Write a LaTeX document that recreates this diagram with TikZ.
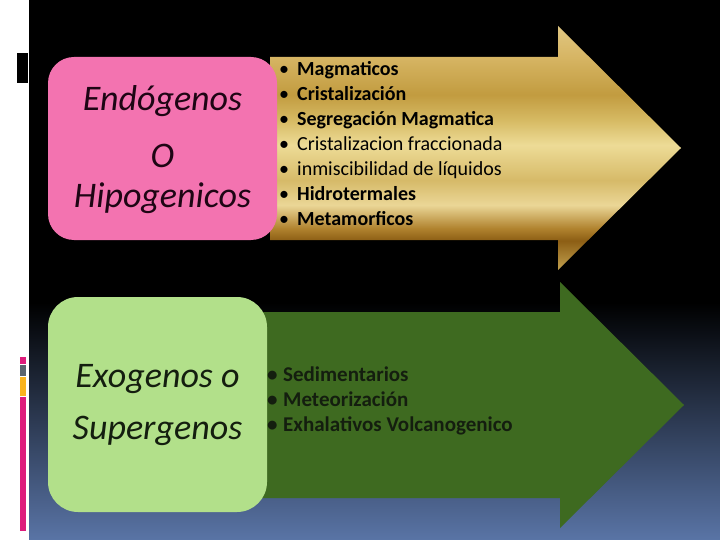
\documentclass[tikz,border=0pt]{standalone}
\usepackage{fontspec}
\setmainfont{Carlito}
\definecolor{pinkbox}{RGB}{243,115,176}
\definecolor{lgreen}{RGB}{178,224,138}
\definecolor{dgreen}{RGB}{62,106,32}
\definecolor{barpink}{RGB}{222,28,124}
\definecolor{bargray}{RGB}{90,100,110}
\definecolor{barorange}{RGB}{250,180,30}
\definecolor{pinktext}{RGB}{30,5,20}
\definecolor{greentext}{RGB}{20,30,15}
\pgfdeclareverticalshading{goldshade}{100bp}{%
  rgb(0bp)=(0.76,0.63,0.31);
  rgb(25bp)=(0.76,0.63,0.31);
  rgb(31bp)=(0.55,0.37,0.08);
  rgb(33.5bp)=(0.69,0.51,0.18);
  rgb(38.3bp)=(0.92,0.84,0.59);
  rgb(43.4bp)=(0.84,0.73,0.41);
  rgb(50.6bp)=(0.93,0.86,0.59);
  rgb(55.7bp)=(0.84,0.73,0.39);
  rgb(60.9bp)=(0.76,0.61,0.25);
  rgb(68.6bp)=(0.84,0.71,0.39);
  rgb(75bp)=(0.88,0.78,0.51);
  rgb(100bp)=(0.88,0.78,0.51)}
\pgfdeclareverticalshading{bgshade}{100bp}{%
  rgb(0bp)=(0.35,0.455,0.65);
  rgb(25bp)=(0.35,0.455,0.65);
  rgb(47bp)=(0,0,0);
  rgb(100bp)=(0,0,0)}
\tikzset{
  titlebox/.style={inner sep=0pt},
  titletext/.style={anchor=north, align=center, inner sep=0pt},
  listtext/.style={anchor=north west, align=left, inner sep=0pt},
}
\newcommand{\bulA}{\strut\makebox[18pt][l]{\textbullet}}
\newcommand{\bulB}{\strut\makebox[16pt][l]{\textbullet}}
\begin{document}
\begin{tikzpicture}[x=1pt,y=-1pt]
\useasboundingbox (0,0) rectangle (720,540);
% background
\fill[white] (0,0) rectangle (720,540);
\shade[shading=bgshade] (29,0) rectangle (720,540);
\fill[black] (17,53) rectangle (28,83);
\fill[barpink] (20,357) rectangle (26,364);
\fill[bargray] (20,365) rectangle (26,376);
\fill[barorange] (20,377) rectangle (26,396);
\fill[barpink] (20,397) rectangle (26,531);
% gold arrow
\shade[shading=goldshade] (270,57) -- (558,57) -- (558,26) -- (681,148) -- (558,270) -- (558,240) -- (270,240) -- cycle;
% pink box
\node[titlebox, rounded corners=26pt, fill=pinkbox, minimum width=229pt, minimum height=183pt] (endobox) at (162.5,148.5) {};
\node[titletext, text=pinktext, font=\itshape\fontsize{36}{40}\selectfont] (endo) at (162.5,82)
  {\strut Endógenos\\[17pt]\strut O\\\strut Hipogenicos};
% green arrow
\fill[dgreen] (250,312) -- (560,312) -- (560,282) -- (684,405) -- (560,528) -- (560,498) -- (250,498) -- cycle;
% light green box
\node[titlebox, rounded corners=30pt, fill=lgreen, minimum width=219pt, minimum height=215pt] (exobox) at (157.5,404.5) {};
\node[titletext, text=greentext, font=\itshape\fontsize{36}{52}\selectfont] (exo) at (157.5,350.6)
  {\strut Exogenos o\\\strut Supergenos};
% lists
\node[listtext, text=black, font=\fontsize{20}{25}\selectfont] (endolist) at (279,57.5)
  {\bulA\textbf{Magmaticos}\\
   \bulA\textbf{Cristalización}\\
   \bulA\textbf{Segregación Magmatica}\\
   \bulA Cristalizacion fraccionada\\
   \bulA inmiscibilidad de líquidos\\
   \bulA\textbf{Hidrotermales}\\
   \bulA\textbf{Metamorficos}};
\node[listtext, text=greentext, font=\bfseries\fontsize{21}{25}\selectfont] (exolist) at (267,363.5)
  {\bulB Sedimentarios\\
   \bulB Meteorización\\
   \bulB Exhalativos Volcanogenico};
\end{tikzpicture}
\end{document}
